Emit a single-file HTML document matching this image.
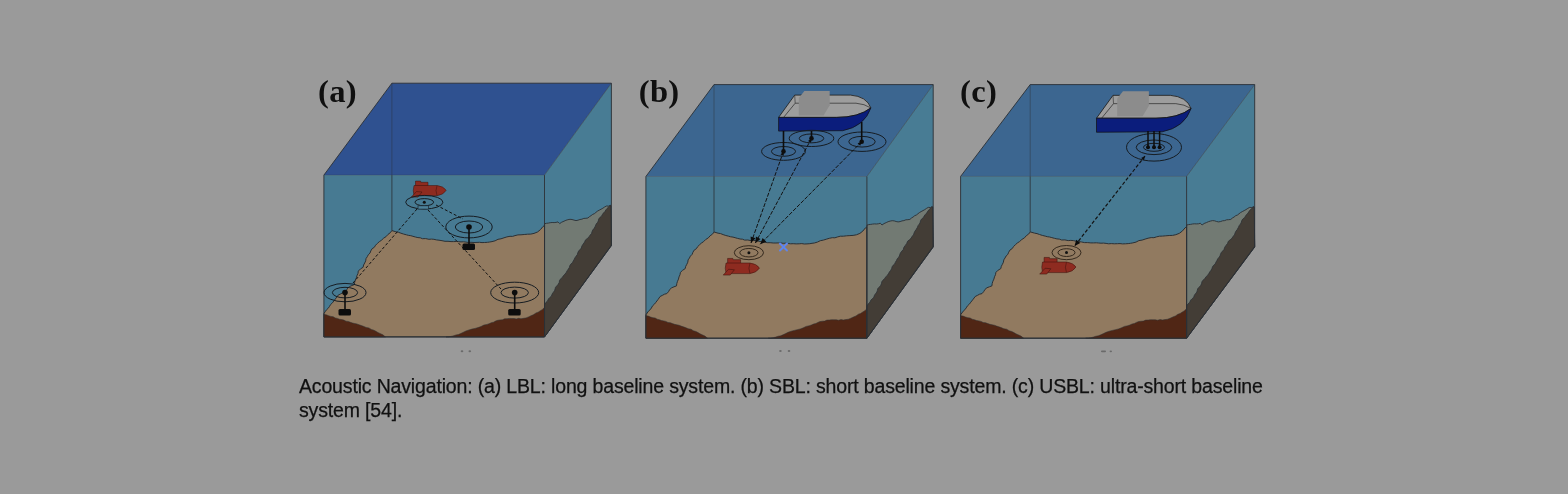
<!DOCTYPE html>
<html><head><meta charset="utf-8">
<style>
html,body{margin:0;padding:0;width:1568px;height:494px;overflow:hidden;background:#9a9a9a;}
svg{position:absolute;left:0;top:0;filter:blur(0.35px);}
.cap{position:absolute;left:299px;top:374px;width:1100px;font-family:"Liberation Sans",sans-serif;font-size:19.5px;line-height:24px;color:#111;letter-spacing:-0.16px;-webkit-text-stroke:0.25px #111;white-space:nowrap;will-change:transform;}
</style></head><body>
<svg width="1568" height="494" viewBox="0 0 1568 494">
<g font-family="Liberation Serif" font-weight="bold" font-size="32.6" fill="#101010" letter-spacing="0.3"><text x="318" y="101.8">(a)</text><text x="638.8" y="101.8">(b)</text><text x="960" y="101.8">(c)</text></g>
<polygon points="323.9,175.1 391.9,83.2 611.4,83.2 544.5,175.1" fill="#2f5190"/>
<polygon points="544.5,175.1 611.4,83.2 611.4,245.0 544.5,336.9" fill="#487c94"/>
<rect x="323.9" y="175.1" width="220.6" height="161.8" fill="#477a92"/>
<polygon points="323.9,313.5 325.2,311.7 326.4,309.9 328.1,308.4 329.4,306.6 330.6,304.5 332.4,302.9 333.9,300.9 336.2,297.9 338.1,295.2 340.3,294.1 342.4,292.9 344.8,292.3 346.4,290.3 347.7,288.1 349.6,286.5 352.0,285.5 354.4,284.6 354.7,282.2 355.4,279.9 356.4,277.8 357.0,275.5 358.0,273.4 358.3,271.1 360.5,268.9 363.1,267.3 363.6,265.0 364.7,263.0 365.7,260.9 366.0,258.6 367.3,256.7 368.3,254.7 370.0,253.1 370.8,250.9 372.1,248.7 374.3,247.3 375.6,245.2 377.4,243.4 379.3,241.7 381.4,240.3 383.6,238.2 386.2,236.5 388.0,234.4 390.2,232.8 391.9,230.6 395.9,231.8 398.5,232.3 400.9,233.2 403.7,234.1 406.4,234.8 408.6,235.4 410.8,235.7 412.9,236.3 415.4,237.0 417.9,237.6 420.3,237.8 422.4,238.7 425.7,238.6 428.9,239.3 431.4,239.1 433.9,239.3 436.4,239.9 439.0,240.2 442.0,240.7 445.0,241.3 448.0,241.3 451.0,241.6 453.7,241.6 456.5,241.5 458.7,241.7 461.0,241.9 463.5,241.8 466.0,242.1 468.5,242.5 471.0,242.3 474.0,242.5 477.0,242.4 479.5,242.3 482.0,242.6 484.7,242.5 487.5,242.3 489.7,242.0 492.0,241.6 495.1,240.8 498.0,239.3 501.0,238.8 504.0,237.8 506.9,236.9 510.0,236.3 512.5,236.4 515.0,235.6 517.9,234.9 521.0,234.8 524.2,234.5 527.5,234.2 530.8,234.1 534.0,233.4 537.5,232.0 540.5,229.6 543.0,226.5 544.5,225.5 544.5,336.9 323.9,336.9" fill="#917a60" stroke="#2b3035" stroke-width="1.0"/>
<polygon points="323.9,314.4 326.3,314.8 328.6,315.7 330.9,316.4 333.2,316.7 335.2,317.9 337.4,318.4 339.5,319.2 341.7,319.6 343.9,320.1 346.0,321.2 348.3,321.4 350.4,322.3 352.5,323.0 354.7,323.5 356.9,323.9 359.1,324.8 361.3,325.5 363.4,326.3 366.1,327.4 368.9,327.9 371.3,329.4 373.9,330.2 375.9,331.3 377.9,332.5 379.9,333.4 382.9,334.8 385.4,336.9 323.9,336.9" fill="#502615" stroke="#2b3035" stroke-width="0.5"/>
<polygon points="446.0,336.9 448.5,336.8 451.0,336.4 453.5,335.8 456.0,334.9 458.4,334.5 460.7,333.5 463.0,332.4 465.9,331.0 469.0,329.9 471.9,329.1 475.0,328.4 478.0,327.6 481.0,326.5 483.8,325.1 487.0,324.4 489.1,323.7 491.2,322.7 493.5,322.2 495.5,321.1 497.7,320.3 500.0,319.9 502.4,319.8 504.6,318.8 507.0,318.7 509.3,318.4 511.6,318.5 514.0,318.5 516.3,318.9 518.7,318.3 521.0,318.7 523.5,318.3 526.0,317.9 528.5,316.9 531.0,315.7 533.7,314.6 536.0,312.9 538.1,312.2 540.0,310.9 542.5,309.4 544.5,307.3 544.5,336.9" fill="#502615" stroke="#2b3035" stroke-width="0.5"/>
<polygon points="544.6,223.7 546.4,223.3 548.3,223.1 550.2,222.7 552.1,222.5 554.1,222.6 556.0,222.4 558.0,221.9 559.7,223.6 561.7,222.2 564.0,221.2 565.9,220.3 567.9,219.7 570.0,219.3 572.0,219.5 574.0,220.1 576.0,220.6 578.0,220.2 579.9,219.5 581.9,219.2 583.8,218.4 585.9,218.3 587.9,218.0 589.4,216.7 591.1,215.6 592.7,214.4 594.5,213.6 595.9,212.4 597.4,211.2 599.2,210.2 601.1,209.2 602.9,208.2 604.6,207.0 606.5,206.0 608.6,206.1 610.5,205.2 611.4,245.6 544.5,336.9" fill="#727a73" stroke="#2b3035" stroke-width="0.9"/>
<polygon points="610.0,205.7 608.5,207.0 607.1,208.4 605.9,209.9 604.8,211.7 603.4,213.1 602.3,214.7 601.4,216.4 599.8,217.5 598.7,219.1 598.3,221.0 597.4,222.6 596.2,224.0 595.3,226.2 594.2,228.3 592.7,230.1 592.0,231.8 591.5,233.6 590.2,235.0 589.0,236.9 587.3,238.5 585.5,239.9 584.6,242.1 583.2,244.0 581.9,246.0 581.3,248.1 579.8,249.8 578.6,251.1 577.8,252.8 577.3,254.6 576.2,256.1 575.1,257.5 574.3,259.2 573.3,260.9 572.5,262.6 571.0,263.9 569.9,265.5 569.4,267.4 568.4,269.0 567.2,270.7 566.2,272.5 565.0,274.1 563.5,275.6 562.4,277.2 560.9,278.7 559.6,280.3 559.2,282.5 558.2,284.3 556.8,285.9 555.5,287.3 555.1,289.0 554.5,290.8 553.4,292.2 552.2,293.9 551.5,296.0 549.9,297.4 548.4,298.9 547.6,300.9 545.8,302.6 544.6,304.7 544.5,336.9 611.4,245.6 610.9,205.7" fill="#433d36" stroke="#2b3035" stroke-width="0.8"/>
<polyline points="323.9,336.9 323.9,175.1 391.9,83.2 611.4,83.2 611.4,245.0 544.5,336.9 323.9,336.9" stroke="#2b3035" stroke-width="0.9" fill="none"/>
<line x1="323.9" y1="175.1" x2="544.5" y2="175.1" stroke="#2b3035" stroke-width="0.8" stroke-opacity="0.3"/>
<line x1="544.5" y1="175.1" x2="611.4" y2="83.19999999999999" stroke="#2b3035" stroke-width="0.8" stroke-opacity="0.55"/>
<line x1="544.5" y1="175.1" x2="544.5" y2="336.9" stroke="#2b3035" stroke-width="0.9" fill="none"/>
<line x1="391.9" y1="83.19999999999999" x2="391.9" y2="175.1" stroke="#2b3035" stroke-width="0.8" stroke-opacity="0.55"/>
<line x1="391.9" y1="175.1" x2="391.9" y2="230.6" stroke="#2b3035" stroke-width="0.8"/>
<polygon points="645.9,176.5 714.0,84.6 933.2,84.6 866.9,176.5" fill="#3c6690"/>
<polygon points="866.9,176.5 933.2,84.6 933.2,246.3 866.9,338.2" fill="#487c94"/>
<rect x="645.9" y="176.5" width="221" height="161.7" fill="#477a92"/>
<polygon points="645.9,314.8 647.2,313.0 648.4,311.2 650.1,309.8 651.4,308.0 652.6,305.8 654.4,304.2 655.9,302.3 658.2,299.3 660.1,296.5 662.3,295.4 664.5,294.2 666.8,293.6 668.5,291.7 669.7,289.5 671.7,287.8 674.0,286.8 676.5,285.9 676.8,283.5 677.5,281.3 678.5,279.1 679.0,276.9 680.0,274.7 680.4,272.4 682.6,270.3 685.2,268.6 685.7,266.4 686.8,264.3 687.8,262.2 688.1,259.9 689.4,258.1 690.4,256.1 692.1,254.4 692.9,252.3 694.2,250.1 696.4,248.7 697.7,246.6 699.5,244.8 701.4,243.1 703.5,241.7 705.7,239.5 708.3,237.9 710.1,235.8 712.4,234.2 714.1,232.0 718.1,233.2 720.6,233.6 723.1,234.6 725.8,235.5 728.6,236.2 730.7,236.8 733.0,237.1 735.1,237.7 737.6,238.4 740.1,239.0 742.5,239.2 744.6,240.1 747.9,240.0 751.1,240.7 753.6,240.4 756.1,240.7 758.6,241.3 761.2,241.6 764.2,242.1 767.2,242.7 770.2,242.7 773.2,243.0 775.9,243.0 778.7,242.9 781.0,243.0 783.2,243.3 785.7,243.2 788.2,243.5 790.7,243.8 793.2,243.7 796.2,243.9 799.2,243.8 801.8,243.6 804.3,244.0 807.0,243.9 809.8,243.7 812.0,243.3 814.3,243.0 817.4,242.1 820.3,240.7 823.4,240.1 826.3,239.2 829.3,238.3 832.3,237.7 834.9,237.8 837.3,237.0 840.3,236.2 843.3,236.2 846.6,235.8 849.9,235.6 853.1,235.4 856.4,234.8 859.9,233.4 862.9,231.0 865.4,227.9 866.9,226.9 866.9,338.2 645.9,338.2" fill="#917a60" stroke="#2b3035" stroke-width="1.0"/>
<polygon points="645.9,315.7 648.3,316.1 650.6,317.1 652.9,317.7 655.2,318.0 657.2,319.2 659.4,319.7 661.5,320.5 663.8,320.9 665.9,321.4 668.0,322.5 670.3,322.7 672.5,323.6 674.6,324.3 676.8,324.8 679.0,325.2 681.1,326.1 683.3,326.8 685.5,327.6 688.2,328.7 691.0,329.2 693.3,330.7 696.0,331.5 698.0,332.6 700.0,333.8 702.0,334.7 705.0,336.1 707.5,338.2 645.9,338.2" fill="#502615" stroke="#2b3035" stroke-width="0.5"/>
<polygon points="768.2,338.2 770.7,338.1 773.2,337.7 775.7,337.1 778.2,336.2 780.7,335.8 783.0,334.8 785.2,333.7 788.1,332.3 791.2,331.2 794.2,330.4 797.2,329.7 800.3,328.9 803.3,327.8 806.1,326.4 809.3,325.7 811.4,325.0 813.5,324.0 815.8,323.5 817.8,322.4 820.0,321.6 822.3,321.2 824.7,321.1 826.9,320.1 829.3,320.0 831.6,319.7 834.0,319.8 836.3,319.8 838.7,320.2 841.0,319.6 843.3,320.0 845.8,319.6 848.4,319.2 850.9,318.2 853.4,317.0 856.0,315.9 858.4,314.2 860.5,313.5 862.4,312.2 864.9,310.7 866.9,308.7 866.9,338.2" fill="#502615" stroke="#2b3035" stroke-width="0.5"/>
<polygon points="867.0,225.1 868.8,224.6 870.7,224.4 872.5,224.1 874.4,223.9 876.4,224.0 878.3,223.8 880.3,223.2 882.0,225.0 884.0,223.6 886.2,222.6 888.1,221.7 890.1,221.1 892.2,220.7 894.2,220.9 896.1,221.5 898.1,221.9 900.1,221.6 902.0,220.9 903.9,220.6 905.9,219.8 907.9,219.7 909.9,219.4 911.4,218.1 913.1,217.0 914.7,215.7 916.4,215.0 917.9,213.8 919.4,212.6 921.1,211.6 923.0,210.6 924.8,209.6 926.5,208.4 928.3,207.4 930.5,207.5 932.3,206.5 933.2,247.0 866.9,338.2" fill="#727a73" stroke="#2b3035" stroke-width="0.9"/>
<polygon points="931.8,207.1 930.3,208.3 929.0,209.8 927.7,211.3 926.7,213.1 925.3,214.5 924.2,216.0 923.3,217.7 921.7,218.9 920.6,220.5 920.2,222.3 919.4,224.0 918.2,225.4 917.3,227.6 916.1,229.6 914.7,231.5 914.0,233.2 913.4,234.9 912.2,236.3 911.0,238.3 909.4,239.8 907.6,241.2 906.7,243.5 905.3,245.4 903.9,247.3 903.3,249.5 901.9,251.1 900.7,252.5 899.9,254.2 899.4,256.0 898.4,257.5 897.2,258.9 896.4,260.6 895.4,262.2 894.7,264.0 893.1,265.3 892.1,266.8 891.6,268.8 890.6,270.4 889.4,272.0 888.4,273.8 887.2,275.4 885.8,276.9 884.6,278.5 883.2,280.0 881.9,281.6 881.4,283.8 880.5,285.7 879.1,287.2 877.8,288.6 877.4,290.4 876.8,292.1 875.7,293.5 874.5,295.2 873.8,297.3 872.3,298.7 870.8,300.2 870.0,302.2 868.2,303.9 867.0,306.1 866.9,338.2 933.2,247.0 932.7,207.0" fill="#433d36" stroke="#2b3035" stroke-width="0.8"/>
<polyline points="645.9,338.2 645.9,176.5 714.0,84.6 933.2,84.6 933.2,246.3 866.9,338.2 645.9,338.2" stroke="#2b3035" stroke-width="0.9" fill="none"/>
<line x1="645.9" y1="176.5" x2="866.9" y2="176.5" stroke="#2b3035" stroke-width="0.8" stroke-opacity="0.3"/>
<line x1="866.9" y1="176.5" x2="933.2" y2="84.6" stroke="#2b3035" stroke-width="0.8" stroke-opacity="0.55"/>
<line x1="866.9" y1="176.5" x2="866.9" y2="338.2" stroke="#2b3035" stroke-width="0.9" fill="none"/>
<line x1="714.0" y1="84.6" x2="714.0" y2="176.5" stroke="#2b3035" stroke-width="0.8" stroke-opacity="0.55"/>
<line x1="714.0" y1="176.5" x2="714.0" y2="232.0" stroke="#2b3035" stroke-width="0.8"/>
<polygon points="960.6,176.4 1030.2,84.6 1254.7,84.6 1186.6,176.4" fill="#3c6690"/>
<polygon points="1186.6,176.4 1254.7,84.6 1254.7,246.4 1186.6,338.2" fill="#487c94"/>
<rect x="960.6" y="176.4" width="226" height="161.8" fill="#477a92"/>
<polygon points="960.6,314.8 961.9,313.0 963.2,311.2 964.9,309.7 966.2,307.9 967.5,305.8 969.3,304.2 970.8,302.2 973.2,299.2 975.2,296.5 977.4,295.4 979.6,294.2 982.0,293.6 983.7,291.6 985.0,289.4 986.9,287.8 989.4,286.8 991.9,285.9 992.2,283.5 992.9,281.2 993.9,279.1 994.5,276.8 995.5,274.7 995.9,272.4 998.1,270.2 1000.8,268.6 1001.3,266.3 1002.4,264.3 1003.4,262.2 1003.8,259.9 1005.0,258.0 1006.1,256.0 1007.8,254.4 1008.7,252.2 1010.0,250.0 1012.2,248.6 1013.6,246.5 1015.4,244.7 1017.3,243.0 1019.5,241.6 1021.8,239.5 1024.5,237.8 1026.3,235.7 1028.6,234.1 1030.3,231.9 1034.4,233.1 1037.0,233.6 1039.5,234.5 1042.3,235.4 1045.2,236.1 1047.3,236.7 1049.6,237.0 1051.8,237.6 1054.4,238.3 1056.9,238.9 1059.3,239.1 1061.6,240.0 1064.9,239.9 1068.2,240.6 1070.8,240.4 1073.3,240.6 1075.9,241.2 1078.5,241.5 1081.6,242.0 1084.6,242.6 1087.7,242.6 1090.8,242.9 1093.6,242.9 1096.4,242.8 1098.7,243.0 1101.0,243.2 1103.6,243.1 1106.1,243.4 1108.7,243.8 1111.3,243.6 1114.3,243.8 1117.4,243.7 1120.0,243.6 1122.5,243.9 1125.4,243.8 1128.2,243.6 1130.5,243.3 1132.8,242.9 1136.0,242.1 1138.9,240.6 1142.1,240.1 1145.1,239.1 1148.1,238.2 1151.2,237.6 1153.9,237.7 1156.4,236.9 1159.4,236.2 1162.5,236.1 1165.8,235.8 1169.2,235.5 1172.5,235.4 1175.8,234.7 1179.4,233.3 1182.5,230.9 1185.1,227.8 1186.6,226.8 1186.6,338.2 960.6,338.2" fill="#917a60" stroke="#2b3035" stroke-width="1.0"/>
<polygon points="960.6,315.7 963.1,316.1 965.4,317.0 967.8,317.7 970.1,318.0 972.2,319.2 974.4,319.7 976.6,320.5 978.9,320.9 981.1,321.4 983.2,322.5 985.6,322.7 987.8,323.6 989.9,324.3 992.2,324.8 994.4,325.2 996.6,326.1 998.9,326.8 1001.1,327.6 1003.8,328.7 1006.7,329.2 1009.1,330.7 1011.8,331.5 1013.9,332.6 1015.9,333.8 1018.0,334.7 1021.0,336.1 1023.6,338.2 960.6,338.2" fill="#502615" stroke="#2b3035" stroke-width="0.5"/>
<polygon points="1085.6,338.2 1088.2,338.1 1090.8,337.7 1093.4,337.1 1095.9,336.2 1098.4,335.8 1100.8,334.8 1103.1,333.7 1106.1,332.3 1109.2,331.2 1112.3,330.4 1115.4,329.7 1118.5,328.9 1121.5,327.8 1124.4,326.4 1127.7,325.7 1129.9,325.0 1132.0,324.0 1134.3,323.5 1136.4,322.4 1138.6,321.6 1141.0,321.2 1143.4,321.1 1145.7,320.1 1148.2,320.0 1150.5,319.7 1152.9,319.8 1155.3,319.8 1157.7,320.2 1160.1,319.6 1162.5,320.0 1165.1,319.6 1167.6,319.2 1170.2,318.2 1172.8,317.0 1175.5,315.9 1177.9,314.2 1180.1,313.5 1182.0,312.2 1184.5,310.7 1186.6,308.6 1186.6,338.2" fill="#502615" stroke="#2b3035" stroke-width="0.5"/>
<polygon points="1186.7,225.0 1188.6,224.6 1190.5,224.4 1192.4,224.0 1194.3,223.8 1196.3,223.9 1198.4,223.8 1200.3,223.2 1202.1,225.0 1204.1,223.5 1206.4,222.6 1208.4,221.7 1210.4,221.1 1212.5,220.6 1214.6,220.8 1216.6,221.5 1218.6,221.9 1220.7,221.5 1222.6,220.8 1224.7,220.6 1226.6,219.8 1228.7,219.7 1230.8,219.4 1232.3,218.1 1234.1,217.0 1235.7,215.7 1237.5,215.0 1239.0,213.8 1240.5,212.6 1242.3,211.6 1244.2,210.6 1246.0,209.6 1247.8,208.4 1249.7,207.4 1251.9,207.5 1253.8,206.6 1254.7,247.0 1186.6,338.2" fill="#727a73" stroke="#2b3035" stroke-width="0.9"/>
<polygon points="1253.3,207.1 1251.7,208.4 1250.3,209.8 1249.1,211.3 1248.0,213.1 1246.6,214.5 1245.5,216.1 1244.5,217.7 1242.9,218.9 1241.8,220.5 1241.3,222.3 1240.5,224.0 1239.3,225.4 1238.3,227.6 1237.2,229.6 1235.7,231.5 1235.0,233.2 1234.4,234.9 1233.2,236.3 1231.9,238.3 1230.2,239.8 1228.4,241.2 1227.5,243.5 1226.0,245.4 1224.7,247.3 1224.0,249.5 1222.6,251.1 1221.3,252.5 1220.5,254.2 1220.0,256.0 1218.9,257.4 1217.7,258.9 1216.9,260.6 1215.9,262.2 1215.2,264.0 1213.6,265.3 1212.5,266.8 1211.9,268.7 1210.9,270.4 1209.7,272.0 1208.7,273.8 1207.4,275.4 1206.0,276.9 1204.8,278.5 1203.3,280.0 1202.0,281.6 1201.5,283.8 1200.6,285.6 1199.1,287.2 1197.8,288.6 1197.3,290.3 1196.8,292.1 1195.6,293.5 1194.4,295.2 1193.7,297.3 1192.1,298.7 1190.6,300.2 1189.8,302.2 1188.0,303.9 1186.7,306.0 1186.6,338.2 1254.7,247.0 1254.2,207.1" fill="#433d36" stroke="#2b3035" stroke-width="0.8"/>
<polyline points="960.6,338.2 960.6,176.4 1030.2,84.6 1254.7,84.6 1254.7,246.4 1186.6,338.2 960.6,338.2" stroke="#2b3035" stroke-width="0.9" fill="none"/>
<line x1="960.6" y1="176.4" x2="1186.6" y2="176.4" stroke="#2b3035" stroke-width="0.8" stroke-opacity="0.3"/>
<line x1="1186.6" y1="176.4" x2="1254.7" y2="84.60000000000001" stroke="#2b3035" stroke-width="0.8" stroke-opacity="0.55"/>
<line x1="1186.6" y1="176.4" x2="1186.6" y2="338.20000000000005" stroke="#2b3035" stroke-width="0.9" fill="none"/>
<line x1="1030.2" y1="84.60000000000001" x2="1030.2" y2="176.4" stroke="#2b3035" stroke-width="0.8" stroke-opacity="0.55"/>
<line x1="1030.2" y1="176.4" x2="1030.2" y2="231.9" stroke="#2b3035" stroke-width="0.8"/>
<g transform="translate(413,185.5) scale(1.0)" fill="#8e2b20" stroke="#3a120c" stroke-width="0.5">
<path d="M2.5,0.5 L2.5,-4.4 L7.6,-4.4 L7.8,-3.2 L15,-3.2 L15,0.5 Z"/>
<path d="M1,0 L24,0 Q30.5,0.8 33.2,4.8 Q30.5,9.4 24,10.2 L1,10.2 Q-0.5,5 1,0 Z"/>
<path d="M3.5,6 L9,6.5 L5,11.6 L-1.7,11.6 Z"/>
<path d="M24,0.2 Q22,5 24,10" fill="none"/>
</g>
<ellipse cx="424.3" cy="202.2" rx="18.6" ry="6.8" fill="none" stroke="#161c22" stroke-width="1.0"/><ellipse cx="424.3" cy="202.2" rx="9.3" ry="3.6" fill="none" stroke="#161c22" stroke-width="1.0"/>
<circle cx="424.3" cy="202.2" r="1.5" fill="#111"/>
<line x1="417" y1="209" x2="353" y2="283" stroke="#111" stroke-width="1.0" stroke-dasharray="3,2"/>
<line x1="436" y1="205" x2="463" y2="219" stroke="#111" stroke-width="1.0" stroke-dasharray="3,2"/>
<line x1="428" y1="210" x2="501" y2="289" stroke="#111" stroke-width="1.0" stroke-dasharray="3,2"/>
<ellipse cx="345" cy="292.6" rx="21" ry="9.2" fill="none" stroke="#161c22" stroke-width="1.0"/><ellipse cx="345" cy="292.6" rx="12.6" ry="5.3" fill="none" stroke="#161c22" stroke-width="1.0"/><line x1="345" y1="292.6" x2="345" y2="309.6" stroke="#0d0d0d" stroke-width="1.6"/><circle cx="345" cy="292.6" r="2.8" fill="#0d0d0d"/><rect x="338.5" y="309.1" width="12.5" height="6.5" rx="1.5" fill="#0d0d0d"/>
<ellipse cx="469" cy="227" rx="23.2" ry="10.9" fill="none" stroke="#161c22" stroke-width="1.0"/><ellipse cx="469" cy="227" rx="13.7" ry="6" fill="none" stroke="#161c22" stroke-width="1.0"/><line x1="469" y1="227" x2="469" y2="244" stroke="#0d0d0d" stroke-width="1.6"/><circle cx="469" cy="227" r="2.8" fill="#0d0d0d"/><rect x="462.5" y="243.5" width="12.5" height="6.5" rx="1.5" fill="#0d0d0d"/>
<ellipse cx="514.7" cy="292.6" rx="24" ry="10.4" fill="none" stroke="#161c22" stroke-width="1.0"/><ellipse cx="514.7" cy="292.6" rx="13.7" ry="5.5" fill="none" stroke="#161c22" stroke-width="1.0"/><line x1="514.7" y1="292.6" x2="514.7" y2="309.6" stroke="#0d0d0d" stroke-width="1.6"/><circle cx="514.7" cy="292.6" r="2.8" fill="#0d0d0d"/><rect x="508.20000000000005" y="309.1" width="12.5" height="6.5" rx="1.5" fill="#0d0d0d"/>
<g transform="translate(778.6,117.4) scale(1.0)">
<path d="M0,0 L16.1,-22.3 L72,-22.3 Q88,-21 92.3,-9.5 Q80,0 58,0 Z" fill="#9d9d9d" stroke="#1a1a1a" stroke-width="0.8"/>
<path d="M5,0 L16.6,-14.2 L77.4,-14.2 Q86,-13.5 92,-9.6" fill="none" stroke="#2a2a2a" stroke-width="0.7"/>
<path d="M16.1,-22.3 L16.6,-14.2" fill="none" stroke="#2a2a2a" stroke-width="0.6"/>
<path d="M25.8,-26.3 L51.1,-26.3 L51.1,-12.1 L45,-2 L20.2,-2 L20.2,-19.3 Z" fill="#8c8c8c"/>
<path d="M0,0 L58,0 Q80,0 92.3,-9.5 Q86,9 64,13.3 L0,13.7 Z" fill="#0b1d7c" stroke="#111" stroke-width="0.7"/>
</g>
<ellipse cx="783.5" cy="151.4" rx="21.9" ry="8.9" fill="none" stroke="#161c22" stroke-width="1.0"/><ellipse cx="783.5" cy="151.4" rx="12.045" ry="4.8950000000000005" fill="none" stroke="#161c22" stroke-width="1.0"/>
<ellipse cx="811.5" cy="138.4" rx="22.3" ry="8.1" fill="none" stroke="#161c22" stroke-width="1.0"/><ellipse cx="811.5" cy="138.4" rx="12.265" ry="4.455" fill="none" stroke="#161c22" stroke-width="1.0"/>
<ellipse cx="862" cy="141.7" rx="24" ry="9.7" fill="none" stroke="#161c22" stroke-width="1.0"/><ellipse cx="862" cy="141.7" rx="13.200000000000001" ry="5.335" fill="none" stroke="#161c22" stroke-width="1.0"/>
<g stroke="#0d0d0d" stroke-width="1.6"><line x1="783.5" y1="131" x2="783.5" y2="151"/><line x1="811.5" y1="131" x2="811.5" y2="138"/><line x1="861.7" y1="122" x2="861.7" y2="141"/></g>
<g fill="#0d0d0d"><circle cx="783.5" cy="151.4" r="2.3"/><circle cx="811.5" cy="138.4" r="2.3"/><circle cx="861.7" cy="141.7" r="2.3"/></g>
<line x1="783.5" y1="151.4" x2="751" y2="243" stroke="#111" stroke-width="1.0" stroke-dasharray="4,1.5"/>
<line x1="811.5" y1="138.4" x2="755.4" y2="243" stroke="#111" stroke-width="1.0" stroke-dasharray="4,1.5"/>
<line x1="861.7" y1="141.7" x2="760.2" y2="244.2" stroke="#111" stroke-width="1.0" stroke-dasharray="4,1.5"/>
<ellipse cx="748.9" cy="252.7" rx="14.6" ry="7" fill="none" stroke="#2a2016" stroke-width="0.9"/><ellipse cx="748.9" cy="252.7" rx="9.1" ry="4.25" fill="none" stroke="#2a2016" stroke-width="0.9"/>
<circle cx="748.9" cy="252.7" r="1.5" fill="#111"/>
<g transform="translate(725,263) scale(1.04)" fill="#8e2b20" stroke="#3a120c" stroke-width="0.5">
<path d="M2.5,0.5 L2.5,-4.4 L7.6,-4.4 L7.8,-3.2 L15,-3.2 L15,0.5 Z"/>
<path d="M1,0 L24,0 Q30.5,0.8 33.2,4.8 Q30.5,9.4 24,10.2 L1,10.2 Q-0.5,5 1,0 Z"/>
<path d="M3.5,6 L9,6.5 L5,11.6 L-1.7,11.6 Z"/>
<path d="M24,0.2 Q22,5 24,10" fill="none"/>
</g>
<g stroke="#5d85ee" stroke-width="1.9" stroke-linecap="round"><line x1="780" y1="243.5" x2="787" y2="250.5"/><line x1="787" y1="243.5" x2="780" y2="250.5"/></g>
<g transform="translate(1096.5,118.2) scale(1.025)">
<path d="M0,0 L16.1,-22.3 L72,-22.3 Q88,-21 92.3,-9.5 Q80,0 58,0 Z" fill="#9d9d9d" stroke="#1a1a1a" stroke-width="0.8"/>
<path d="M5,0 L16.6,-14.2 L77.4,-14.2 Q86,-13.5 92,-9.6" fill="none" stroke="#2a2a2a" stroke-width="0.7"/>
<path d="M16.1,-22.3 L16.6,-14.2" fill="none" stroke="#2a2a2a" stroke-width="0.6"/>
<path d="M25.8,-26.3 L51.1,-26.3 L51.1,-12.1 L45,-2 L20.2,-2 L20.2,-19.3 Z" fill="#8c8c8c"/>
<path d="M0,0 L58,0 Q80,0 92.3,-9.5 Q86,9 64,13.3 L0,13.7 Z" fill="#0b1d7c" stroke="#111" stroke-width="0.7"/>
</g>
<ellipse cx="1154" cy="147.3" rx="27.5" ry="13.8" fill="none" stroke="#161c22" stroke-width="1.0"/><ellipse cx="1154" cy="147.3" rx="17.8" ry="7.3" fill="none" stroke="#161c22" stroke-width="1.0"/><ellipse cx="1154" cy="147.3" rx="10.5" ry="4" fill="none" stroke="#161c22" stroke-width="1.0"/>
<g stroke="#0d0d0d" stroke-width="1.5"><line x1="1148" y1="131" x2="1148" y2="147"/><line x1="1154" y1="131" x2="1154" y2="147"/><line x1="1159.6" y1="131" x2="1159.6" y2="147"/></g>
<g fill="#0d0d0d"><circle cx="1148" cy="147.3" r="2"/><circle cx="1154" cy="147.3" r="2"/><circle cx="1159.6" cy="147.3" r="2"/></g>
<line x1="1145" y1="156" x2="1074.6" y2="246" stroke="#111" stroke-width="1.2" stroke-dasharray="3.5,2"/>
<ellipse cx="1066.5" cy="252.6" rx="14.5" ry="7.1" fill="none" stroke="#2a2016" stroke-width="0.9"/><ellipse cx="1066.5" cy="252.6" rx="8.5" ry="3.9" fill="none" stroke="#2a2016" stroke-width="0.9"/>
<circle cx="1066.5" cy="252.6" r="1.5" fill="#111"/>
<g transform="translate(1041.5,262) scale(1.04)" fill="#8e2b20" stroke="#3a120c" stroke-width="0.5">
<path d="M2.5,0.5 L2.5,-4.4 L7.6,-4.4 L7.8,-3.2 L15,-3.2 L15,0.5 Z"/>
<path d="M1,0 L24,0 Q30.5,0.8 33.2,4.8 Q30.5,9.4 24,10.2 L1,10.2 Q-0.5,5 1,0 Z"/>
<path d="M3.5,6 L9,6.5 L5,11.6 L-1.7,11.6 Z"/>
<path d="M24,0.2 Q22,5 24,10" fill="none"/>
</g>
<polygon points="751.0,243.0 750.6,236.5 755.5,238.2" fill="#0d0d0d"/>
<polygon points="755.4,243.0 755.9,236.5 760.5,238.9" fill="#0d0d0d"/>
<polygon points="760.2,244.2 762.6,238.1 766.3,241.8" fill="#0d0d0d"/>
<polygon points="783.5,151.4 783.9,155.8 780.5,154.6" fill="#0d0d0d"/>
<polygon points="811.5,138.4 811.2,142.8 808.0,141.1" fill="#0d0d0d"/>
<polygon points="861.7,141.7 860.2,145.8 857.6,143.3" fill="#0d0d0d"/>
<polygon points="1074.6,246.0 1076.2,239.7 1080.3,242.9" fill="#0d0d0d"/>
<polygon points="1145.0,156.0 1144.0,160.3 1141.1,158.0" fill="#0d0d0d"/>
<rect x="418" y="205.8" width="10.5" height="3.3" fill="#4d8199" stroke="#1a2630" stroke-width="0.7"/>
<g fill="#6a6a6a"><ellipse cx="462" cy="351.3" rx="1.3" ry="1"/><ellipse cx="469.8" cy="351.3" rx="1.3" ry="1"/><ellipse cx="780.4" cy="351" rx="1.3" ry="1"/><ellipse cx="789" cy="351" rx="1.3" ry="1"/><rect x="1101" y="350.4" width="5" height="1.8" rx="0.9"/><ellipse cx="1110.8" cy="351.3" rx="1.2" ry="0.9"/></g>
</svg>
<div class="cap">Acoustic Navigation: (a) LBL: long baseline system. (b) SBL: short baseline system. (c) USBL: ultra-short baseline<br>system [54].</div>
</body></html>
